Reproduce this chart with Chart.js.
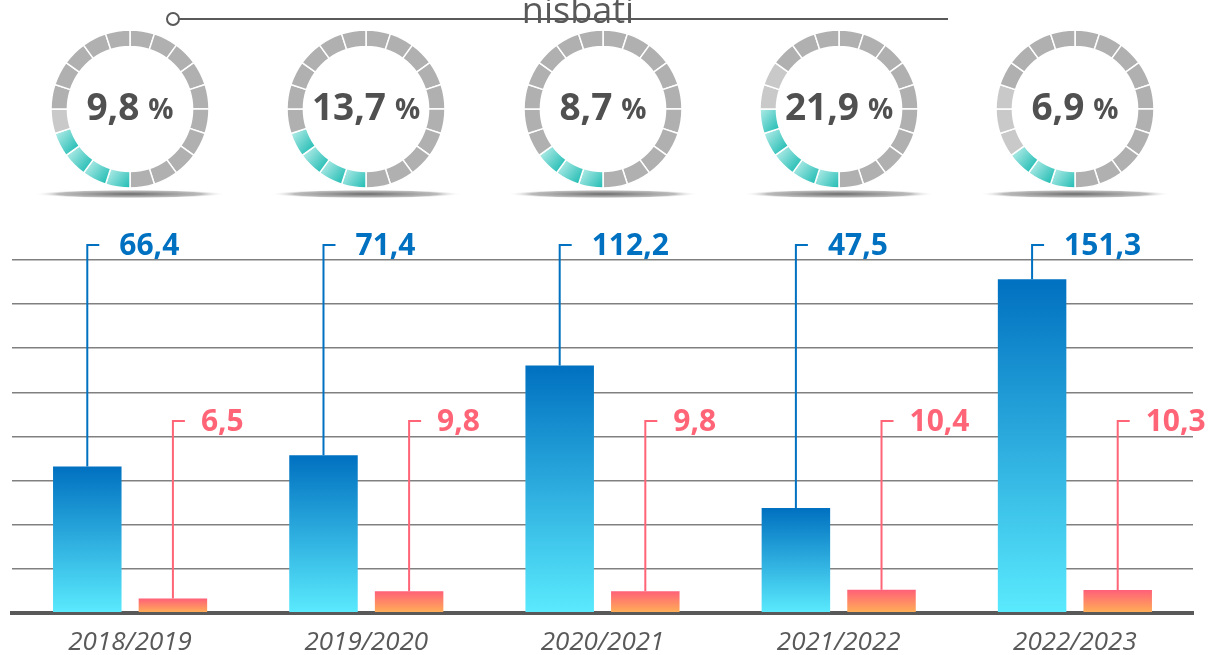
<!DOCTYPE html>
<html>
<head>
<meta charset="utf-8">
<script src="https://cdn.jsdelivr.net/npm/chart.js@4.4.1/dist/chart.umd.min.js"></script>
<style>
  html, body { margin: 0; padding: 0; background: #fff; overflow: hidden; }
  #wrap { position: relative; width: 1208px; height: 655px; }
  #barChart { position: absolute; left: 0; top: 0; }
  .ring { position: absolute; top: 10px; }
</style>
</head>
<body>
<div id="wrap">
  <canvas id="barChart" width="1208" height="655"></canvas>
</div>
<script>
// ---------- DATA ----------
const title = "nisbati";
const years = ["2018/2019", "2019/2020", "2020/2021", "2021/2022", "2022/2023"];
const totalValues = [66.4, 71.4, 112.2, 47.5, 151.3];
const partValues = [6.5, 9.8, 9.8, 10.4, 10.3];
const shareLabels = [9.8, 13.7, 8.7, 21.9, 6.9];
// ring segments (out of 20) as drawn in the picture
const ringSegments = 20;
const tealSegments = [4, 4, 3, 5, 3];
const lightSegments = [1, 0, 0, 2, 3];

const yTicks = [0, 20, 40, 60, 80, 100, 120, 140, 160];

const fmt = v => v.toFixed(1).replace(".", ",");
const FONT = "'Open Sans', 'Noto Sans', sans-serif";

// ---------- BAR GRADIENTS ----------
function barGradient(context, topColor, bottomColor) {
    const chart = context.chart;
    if (!chart.chartArea || context.type !== "data") return topColor;
    const y = chart.scales.y;
    const top = y.getPixelForValue(context.raw);
    const bottom = y.getPixelForValue(0);
    const g = chart.ctx.createLinearGradient(0, top, 0, bottom);
    g.addColorStop(0, topColor);
    g.addColorStop(1, bottomColor);
    return g;
}

// ---------- LEADER LINES + LABELS ----------
const leaderPlugin = {
    id: "leaders",
    afterDatasetsDraw(chart) {
        const { ctx, chartArea } = chart;
        const rows = [
            { ds: 0, y: chartArea.top - 15, color: "#0070c0", off: 32 },
            { ds: 1, y: chartArea.top + 161, color: "#ff6577", off: 28 }
        ];
        rows.forEach(row => {
            const meta = chart.getDatasetMeta(row.ds);
            const values = chart.data.datasets[row.ds].data;
            meta.data.forEach((bar, i) => {
                ctx.save();
                ctx.strokeStyle = row.color;
                ctx.lineWidth = 2;
                ctx.beginPath();
                ctx.moveTo(bar.x, bar.y);
                ctx.lineTo(bar.x, row.y);
                ctx.lineTo(bar.x + 12, row.y);
                ctx.stroke();
                ctx.fillStyle = row.color;
                ctx.font = "bold 30px " + FONT;
                ctx.textAlign = "left";
                ctx.textBaseline = "middle";
                ctx.fillText(fmt(values[i]), bar.x + row.off, row.y + 1);
                ctx.restore();
            });
        });
    }
};

// ---------- TITLE WITH LINE ----------
const titlePlugin = {
    id: "titleLine",
    afterDraw(chart) {
        const ctx = chart.ctx;
        ctx.save();
        ctx.strokeStyle = "#595959";
        ctx.lineWidth = 2;
        ctx.beginPath();
        ctx.moveTo(179, 19);
        ctx.lineTo(948, 19);
        ctx.stroke();
        ctx.beginPath();
        ctx.arc(173, 19, 6, 0, Math.PI * 2);
        ctx.fillStyle = "#fff";
        ctx.fill();
        ctx.stroke();
        ctx.fillStyle = "#595959";
        ctx.font = "36px " + FONT;
        ctx.textAlign = "center";
        ctx.textBaseline = "alphabetic";
        ctx.fillText(title, 578, 23);
        ctx.restore();
    }
};

new Chart(document.getElementById("barChart"), {
    type: "bar",
    data: {
        labels: years,
        datasets: [
            {
                label: "total",
                data: totalValues,
                backgroundColor: c => barGradient(c, "#0070c0", "#5aeafd")
            },
            {
                label: "part",
                data: partValues,
                backgroundColor: c => barGradient(c, "#ff6078", "#ffb055")
            }
        ]
    },
    options: {
        responsive: false,
        animation: false,
        categoryPercentage: 0.725,
        barPercentage: 0.8,
        layout: { padding: { left: 12, right: 15, top: 260, bottom: -17 } },
        plugins: { legend: { display: false }, tooltip: { enabled: false } },
        scales: {
            x: {
                grid: { display: false, drawTicks: false },
                border: { color: "#595959", width: 4 },
                ticks: {
                    color: "#595959",
                    padding: 14,
                    font: { family: FONT, size: 26, style: "italic" }
                }
            },
            y: {
                min: yTicks[0],
                max: yTicks[yTicks.length - 1],
                afterBuildTicks: axis => { axis.ticks = yTicks.map(v => ({ value: v })); },
                ticks: { display: false },
                grid: { color: "#808080", lineWidth: 1.5, drawTicks: false },
                border: { display: false }
            }
        }
    },
    plugins: [leaderPlugin, titlePlugin]
});

// ---------- RINGS ----------
function tealGradient(context) {
    const chart = context.chart;
    const area = chart.chartArea;
    if (!area) return "#3cc8c0";
    const cx = (area.left + area.right) / 2;
    const cy = (area.top + area.bottom) / 2;
    const a = -Math.PI / 2 + (context.dataIndex + 0.5) * (Math.PI * 2 / ringSegments);
    const mx = cx + 71 * Math.cos(a);
    const my = cy + 71 * Math.sin(a);
    const g = chart.ctx.createLinearGradient(mx - 11, my - 9, mx + 11, my + 9);
    g.addColorStop(0, "#b4ece8");
    g.addColorStop(1, "#1fbcb3");
    return g;
}

const ringPlugin = {
    id: "ringExtras",
    beforeDraw(chart) {
        const { ctx, chartArea } = chart;
        const cx = (chartArea.left + chartArea.right) / 2;
        const sy = chartArea.bottom + 6;
        ctx.save();
        ctx.translate(cx, sy);
        ctx.scale(1, 0.045);
        const g = ctx.createRadialGradient(0, 0, 0, 0, 0, 96);
        g.addColorStop(0, "rgba(70,70,70,0.8)");
        g.addColorStop(0.75, "rgba(120,120,120,0.5)");
        g.addColorStop(1, "rgba(255,255,255,0)");
        ctx.fillStyle = g;
        ctx.beginPath();
        ctx.arc(0, 0, 96, 0, Math.PI * 2);
        ctx.fill();
        ctx.restore();
    },
    afterDraw(chart) {
        const { ctx, chartArea } = chart;
        const cx = (chartArea.left + chartArea.right) / 2;
        const cy = (chartArea.top + chartArea.bottom) / 2;
        const num = fmt(chart.options.plugins.ringExtras.value);
        ctx.save();
        ctx.fillStyle = "#505050";
        ctx.textBaseline = "middle";
        ctx.textAlign = "left";
        ctx.font = "bold 37px " + FONT;
        const w1 = ctx.measureText(num).width + 9;
        ctx.font = "bold 28px " + FONT;
        const w2 = ctx.measureText("%").width;
        const x = cx - (w1 + w2) / 2;
        ctx.font = "bold 37px " + FONT;
        ctx.fillText(num, x, cy);
        ctx.font = "bold 28px " + FONT;
        ctx.fillText("%", x + w1, cy + 2);
        ctx.restore();
    }
};

const wrap = document.getElementById("wrap");
shareLabels.forEach((share, k) => {
    const canvas = document.createElement("canvas");
    canvas.width = 236;
    canvas.height = 200;
    canvas.className = "ring";
    canvas.style.left = Math.round(12 + 236.2 * (k + 0.5) - 118) + "px";
    wrap.appendChild(canvas);

    const colors = [];
    for (let i = 0; i < ringSegments; i++) {
        if (i >= 10 && i < 10 + tealSegments[k]) colors.push(tealGradient);
        else if (i >= 10 + tealSegments[k] && i < 10 + tealSegments[k] + lightSegments[k]) colors.push("#c9c9c9");
        else colors.push("#b0b0b0");
    }

    new Chart(canvas, {
        type: "doughnut",
        data: {
            labels: new Array(ringSegments).fill(""),
            datasets: [{
                data: new Array(ringSegments).fill(1),
                backgroundColor: c => {
                    const col = colors[c.dataIndex];
                    return typeof col === "function" ? col(c) : col;
                },
                borderColor: "#ffffff",
                borderWidth: 1.5,
                hoverOffset: 0
            }]
        },
        options: {
            responsive: false,
            animation: false,
            radius: 79,
            cutout: 62,
            layout: { padding: { left: 39, right: 39, top: 20, bottom: 22 } },
            plugins: {
                legend: { display: false },
                tooltip: { enabled: false },
                ringExtras: { value: share }
            }
        },
        plugins: [ringPlugin]
    });
});
</script>
</body>
</html>
